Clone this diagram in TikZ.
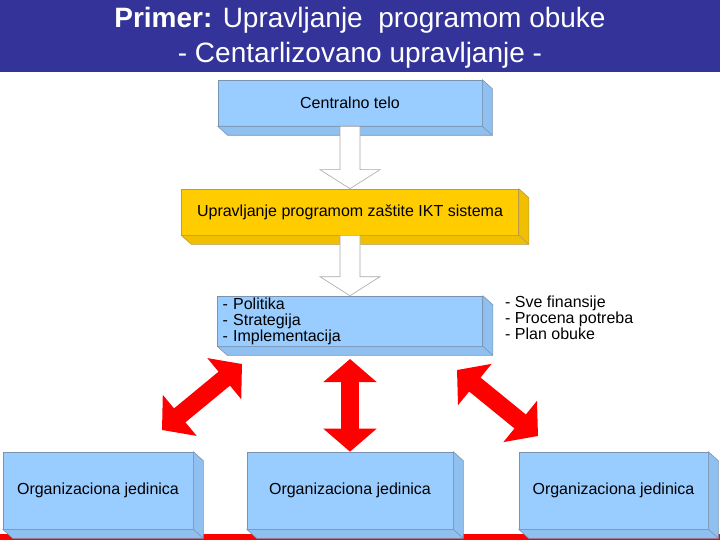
\documentclass[tikz,border=0pt]{standalone}
\usepackage{fontspec}
\setmainfont{Liberation Sans}
\usepackage{tikz}
\usetikzlibrary{arrows.meta,calc}
\usepackage{xcolor}
\definecolor{titleblue}{HTML}{333399}
\definecolor{boxblue}{HTML}{99CCFF}
\definecolor{boxyellow}{HTML}{FFCC00}
\definecolor{blueline}{HTML}{7A94B0}
\definecolor{yellowline}{HTML}{B89A50}
\definecolor{arrowred}{HTML}{FF0000}
\definecolor{hollowgray}{HTML}{A8A8A8}

% side and bottom faces of a box: node name, fill, line
\newcommand{\extrude}[3]{%
  \filldraw[fill=#2, draw=#3, line width=0.6pt, line join=round]
    (#1.north east) -- ++(10,9) -- ($(#1.south east)+(10,9)$)
    -- ($(#1.south west)+(10,9)$) -- (#1.south west) -- (#1.south east) -- cycle;
  \draw[#3, line width=0.6pt] (#1.south east) -- ++(10,9);
}
% white block arrow from one box down to the next
\newcommand{\hollow}[2]{%
  \filldraw[fill=white, draw=hollowgray, line width=0.6pt, line join=miter]
    ($(#1.south)+(-10,0)$) -- ($(#2.north)+(-10,-19)$) -- ($(#2.north)+(-30,-19)$)
    -- (#2.north) -- ($(#2.north)+(30,-19)$) -- ($(#2.north)+(10,-19)$)
    -- ($(#1.south)+(10,0)$) -- cycle;
}

\begin{document}
\begin{tikzpicture}[x=1pt, y=-1pt,
  box/.style={draw=blueline, line width=0.6pt, fill=boxblue, inner sep=0pt,
    font=\fontsize{16}{16}\selectfont},
  ybox/.style={box, draw=yellowline, fill=boxyellow},
  title/.style={text=white, anchor=base, inner sep=0pt,
    font=\fontsize{28}{28}\selectfont},
  list/.style={align=left, inner sep=0pt, font=\fontsize{16}{16}\selectfont},
  redarr/.style={draw=arrowred, line width=18pt,
    {Triangle[width=52pt,length=23pt]}-{Triangle[width=52pt,length=23pt]}}
]
\useasboundingbox (0,0) rectangle (720,540);

% title band
\fill[titleblue] (0,0) rectangle (720,72);
\node[title] (head1) at (360,28) {\textbf{Primer:} Upravljanje\ \ programom obuke};
\node[title] (head2) at (360,63) {- Centarlizovano upravljanje -};

% red bar at the bottom
\fill[arrowred] (0,534) rectangle (720,540);

% boxes
\node[box, minimum width=264pt, minimum height=46pt] (central) at (350,103) {Centralno telo};
\node[ybox, minimum width=337pt, minimum height=46pt] (ikt) at (350,212)
  {Upravljanje programom zaštite IKT sistema};
\node[box, minimum width=265pt, minimum height=50pt, text width=255pt, align=left,
  inner xsep=5pt] (mgmt) at (350,321)
  {- Politika\\- Strategija\\- Implementacija};
\node[list, anchor=west] (tasks) at (505,318)
  {- Sve finansije\\- Procena potreba\\- Plan obuke};

\node[box, minimum width=190pt, minimum height=77pt] (org1) at (98,490.5) {Organizaciona jedinica};
\node[box, minimum width=206pt, minimum height=77pt] (org2) at (350,490.5) {Organizaciona jedinica};
\node[box, minimum width=189pt, minimum height=77pt] (org3) at (613.5,490.5) {Organizaciona jedinica};

\extrude{central}{boxblue!94!black}{blueline}
\extrude{ikt}{boxyellow!94!black}{yellowline}
\extrude{mgmt}{boxblue!94!black}{blueline}
\extrude{org1}{boxblue!94!black}{blueline}
\extrude{org2}{boxblue!94!black}{blueline}
\extrude{org3}{boxblue!94!black}{blueline}

% flow downwards
\hollow{central}{ikt}
\hollow{ikt}{mgmt}

% links to the units
\coordinate (l1) at (162,430);
\coordinate (l2) at (242,364);
\coordinate (m1) at (350,359);
\coordinate (r1) at (457,370);
\coordinate (r2) at (538,436);
\draw[redarr] (l1) -- (l2);
\draw[redarr] (m1) -- (org2.north);
\draw[redarr] (r1) -- (r2);
\end{tikzpicture}
\end{document}
